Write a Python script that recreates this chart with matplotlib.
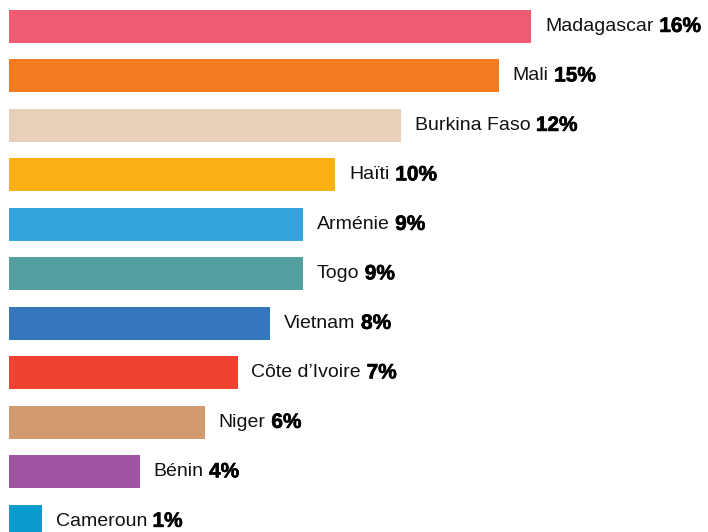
import matplotlib
matplotlib.use("Agg")
import matplotlib.pyplot as plt
import matplotlib.patheffects as pe

# === Données ===
pays = ["Madagascar", "Mali", "Burkina Faso", "Haïti", "Arménie", "Togo",
        "Vietnam", "Côte d’Ivoire", "Niger", "Bénin", "Cameroun"]
parts = [16, 15, 12, 10, 9, 9, 8, 7, 6, 4, 1]
couleurs = ["#F05B74", "#F47B20", "#E8CFBA", "#FBB018", "#35A3DD", "#52A09F",
            "#3577BE", "#EF4231", "#D19B6F", "#9E54A0", "#0B9BCD"]

plt.rcParams["font.family"] = ["Liberation Sans", "DejaVu Sans"]

fig = plt.figure(figsize=(7.08, 5.32), dpi=100)
ax = fig.add_axes([0, 0, 1, 1])

pos = list(range(len(pays)))
ax.barh(pos, parts, height=0.667, color=couleurs, linewidth=0)

# étiquettes : nom en normal, pourcentage en gras (un peu épaissi)
gras = [pe.withStroke(linewidth=0.45, foreground="black")]
for i, (nom, v) in enumerate(zip(pays, parts)):
    t = ax.annotate(nom, xy=(v, i), xytext=(10, 0), textcoords="offset points",
                    va="center", ha="left", fontsize=14, color="#111111")
    ax.annotate(f"{v}%", xy=(1, i), xycoords=(t, "data"),
                xytext=(4, 0), textcoords="offset points",
                va="center", ha="left", fontsize=15, fontweight="bold",
                color="black", path_effects=gras)

ax.set_xlim(-0.276, 21.41)
ax.set_ylim(10.215, -0.534)
ax.axis("off")

fig.savefig("out.png", dpi=100)
